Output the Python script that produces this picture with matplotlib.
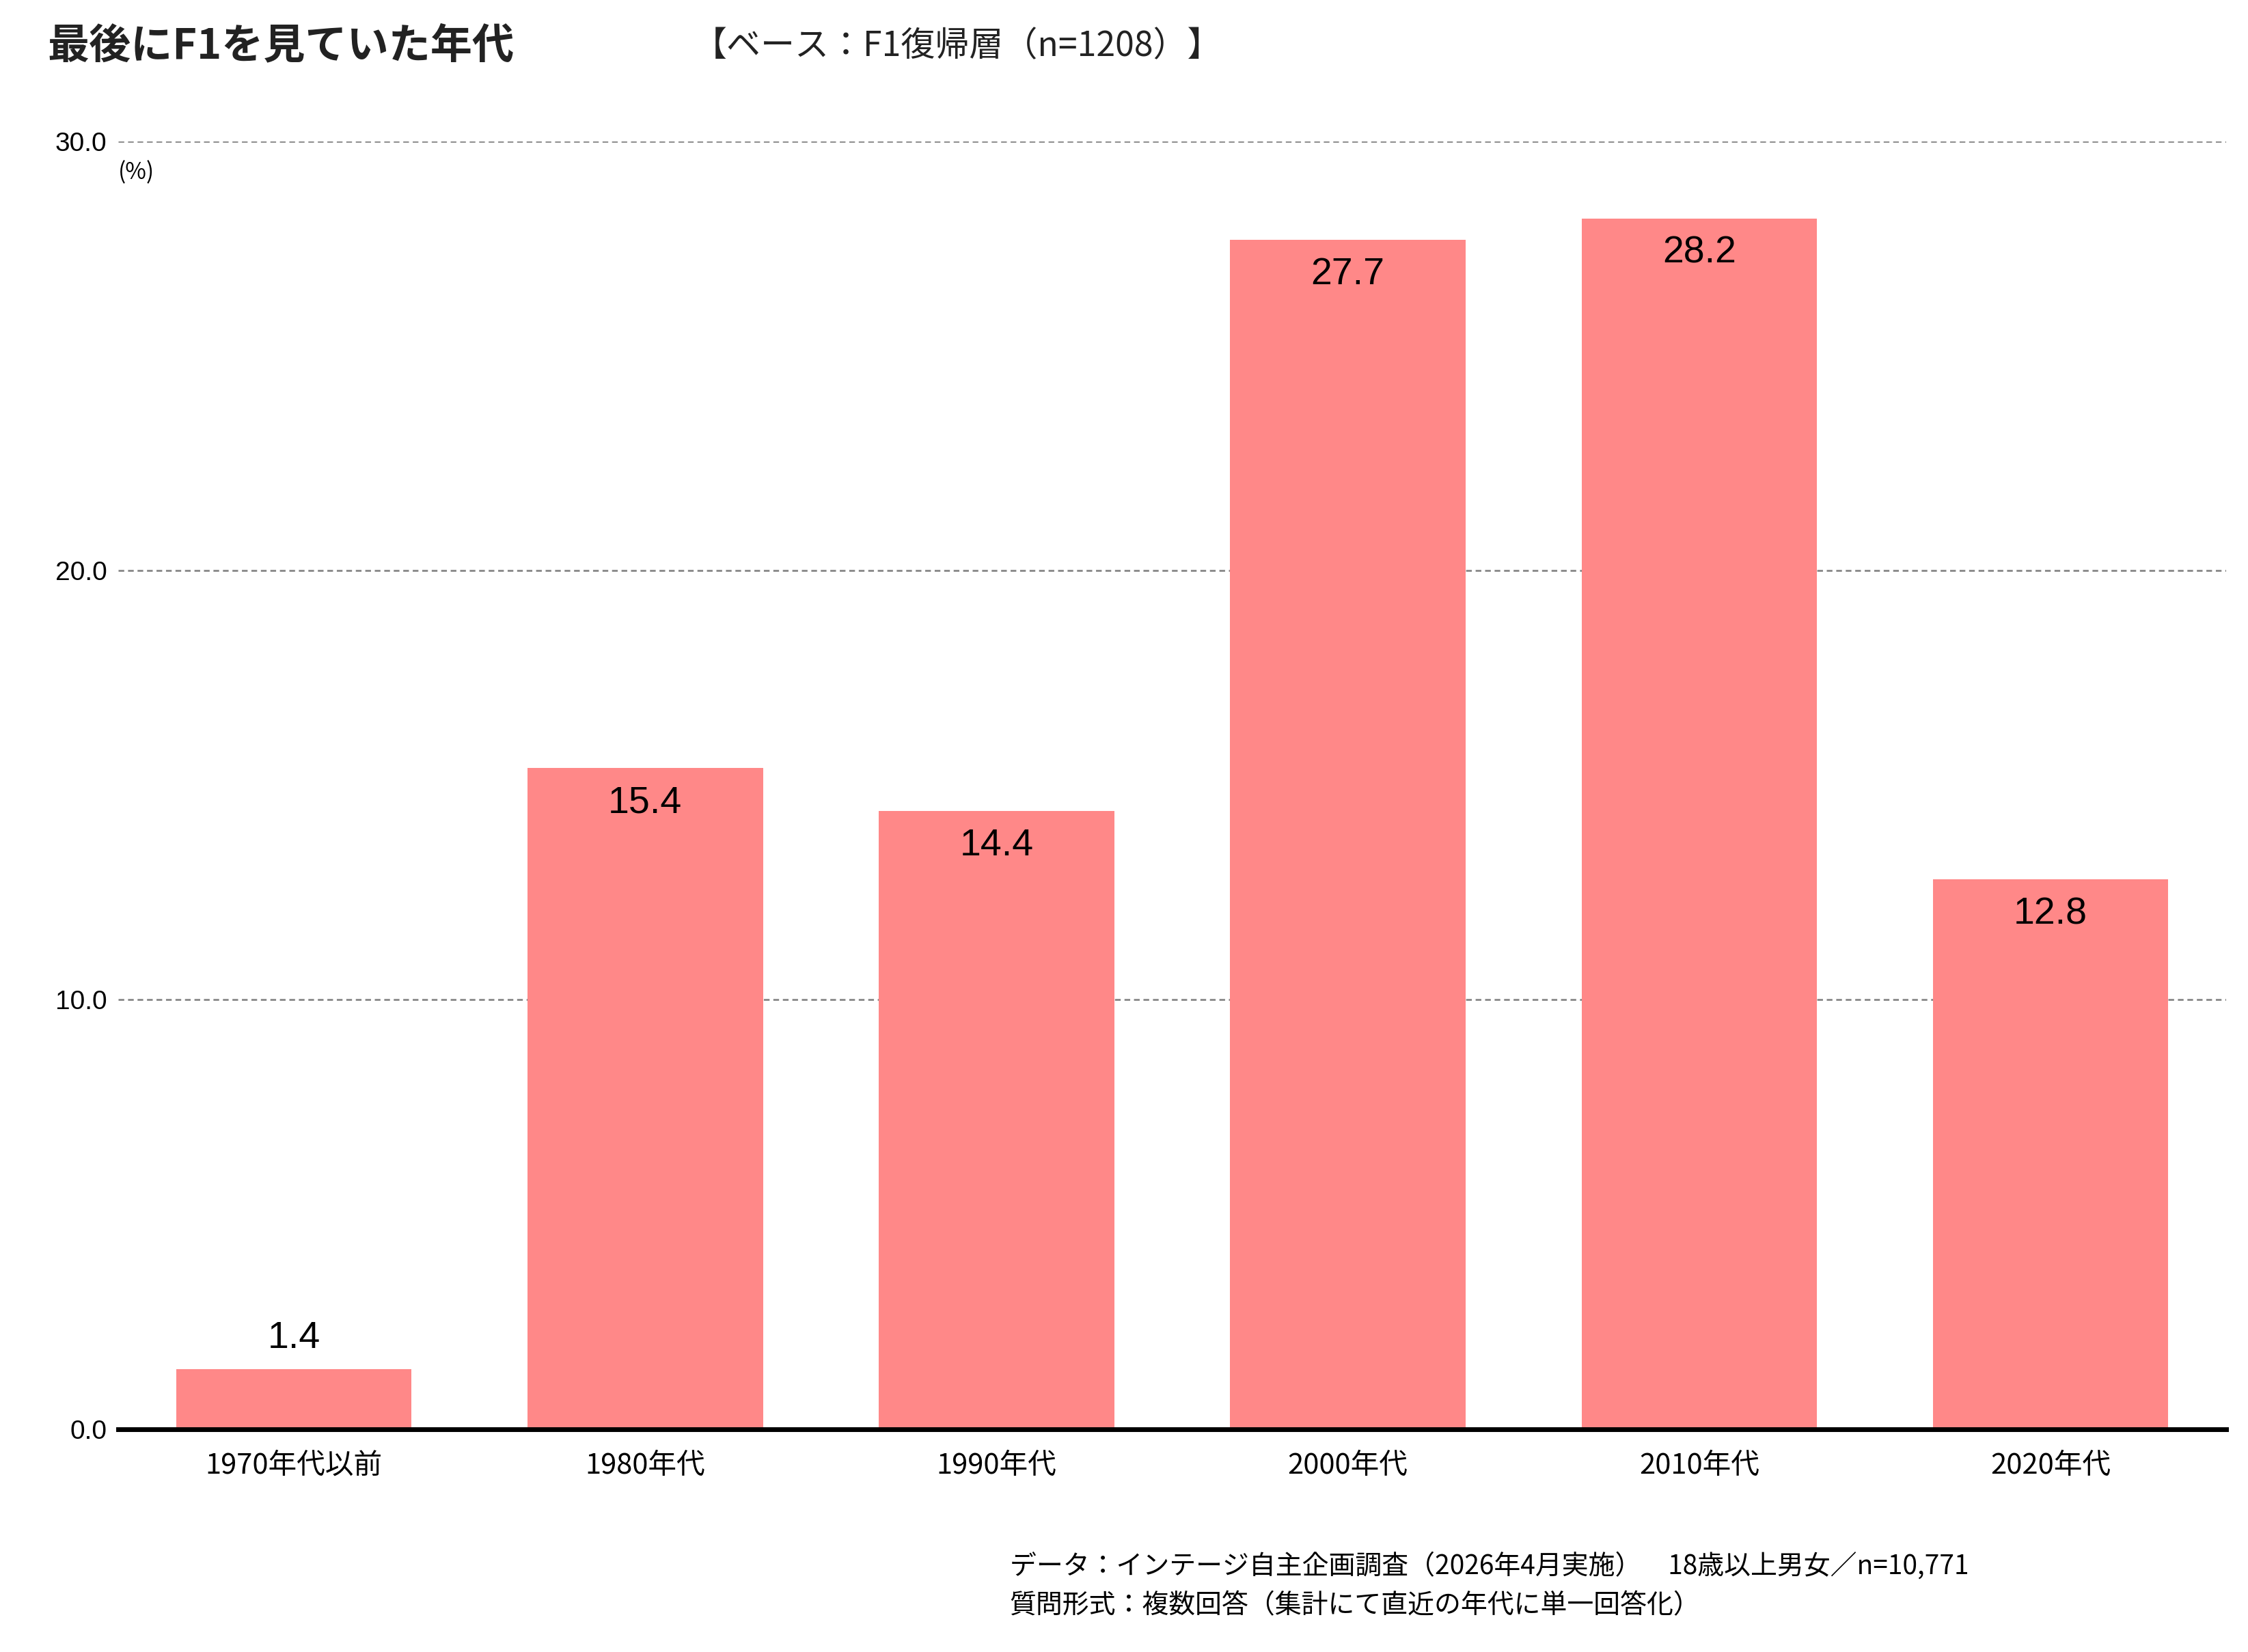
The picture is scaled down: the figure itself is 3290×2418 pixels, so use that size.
import matplotlib
matplotlib.use("Agg")
import matplotlib.pyplot as plt

plt.rcParams['font.family'] = ['Noto Sans CJK JP', 'DejaVu Sans']

categories = ["1970年代以前", "1980年代", "1990年代", "2000年代", "2010年代", "2020年代"]
values = [1.4, 15.4, 14.4, 27.7, 28.2, 12.8]
yticks = [0.0, 10.0, 20.0, 30.0]

fig = plt.figure(figsize=(16.455, 12.09), dpi=200)
ax = fig.add_axes([0.0526, 0.135, 0.9374, 0.7795])
x = list(range(len(categories)))
ax.bar(x, values, width=0.67, color="#FF8888", zorder=2)
ax.set_xlim(-0.5, 5.5)
ax.set_ylim(0, 30)
ax.set_yticks(yticks)
ax.set_yticklabels([f"{v:.1f}" for v in yticks], fontsize=14, family=['Liberation Sans'])
ax.set_xticks(x)
ax.set_xticklabels(categories, fontsize=15)
ax.tick_params(length=0, pad=12)
ax.tick_params(axis='y', pad=6)
for v in yticks[1:]:
    ax.axhline(v, color="#888888", lw=1, ls=(0, (3, 2)), zorder=1)
for s in ["top", "right", "left"]:
    ax.spines[s].set_visible(False)
ax.spines["bottom"].set_linewidth(2.5)
for xi, v in zip(x, values):
    if v < 5:
        ax.text(xi, v + 0.3, f"{v:.1f}", ha="center", va="bottom", fontsize=20, family=['Liberation Sans'])
    else:
        ax.text(xi, v - 0.4, f"{v:.1f}", ha="center", va="top", fontsize=20, family=['Liberation Sans'])
ax.text(0.0, 0.985, "(%)", transform=ax.transAxes, fontsize=12, va="top", ha="left")

fig.text(0.021, 0.972, "最後にF1を見ていた年代", fontsize=22, fontweight="bold", va="center", color="#222222")
fig.text(0.308, 0.972, "【ベース：F1復帰層（n=1208）】", fontsize=18, va="center", color="#222222")
fig.text(0.449, 0.052, "データ：インテージ自主企画調査（2026年4月実施）　18歳以上男女／n=10,771", fontsize=14, va="center")
fig.text(0.449, 0.028, "質問形式：複数回答（集計にて直近の年代に単一回答化）", fontsize=14, va="center")

fig.savefig("out.png", dpi=200)
